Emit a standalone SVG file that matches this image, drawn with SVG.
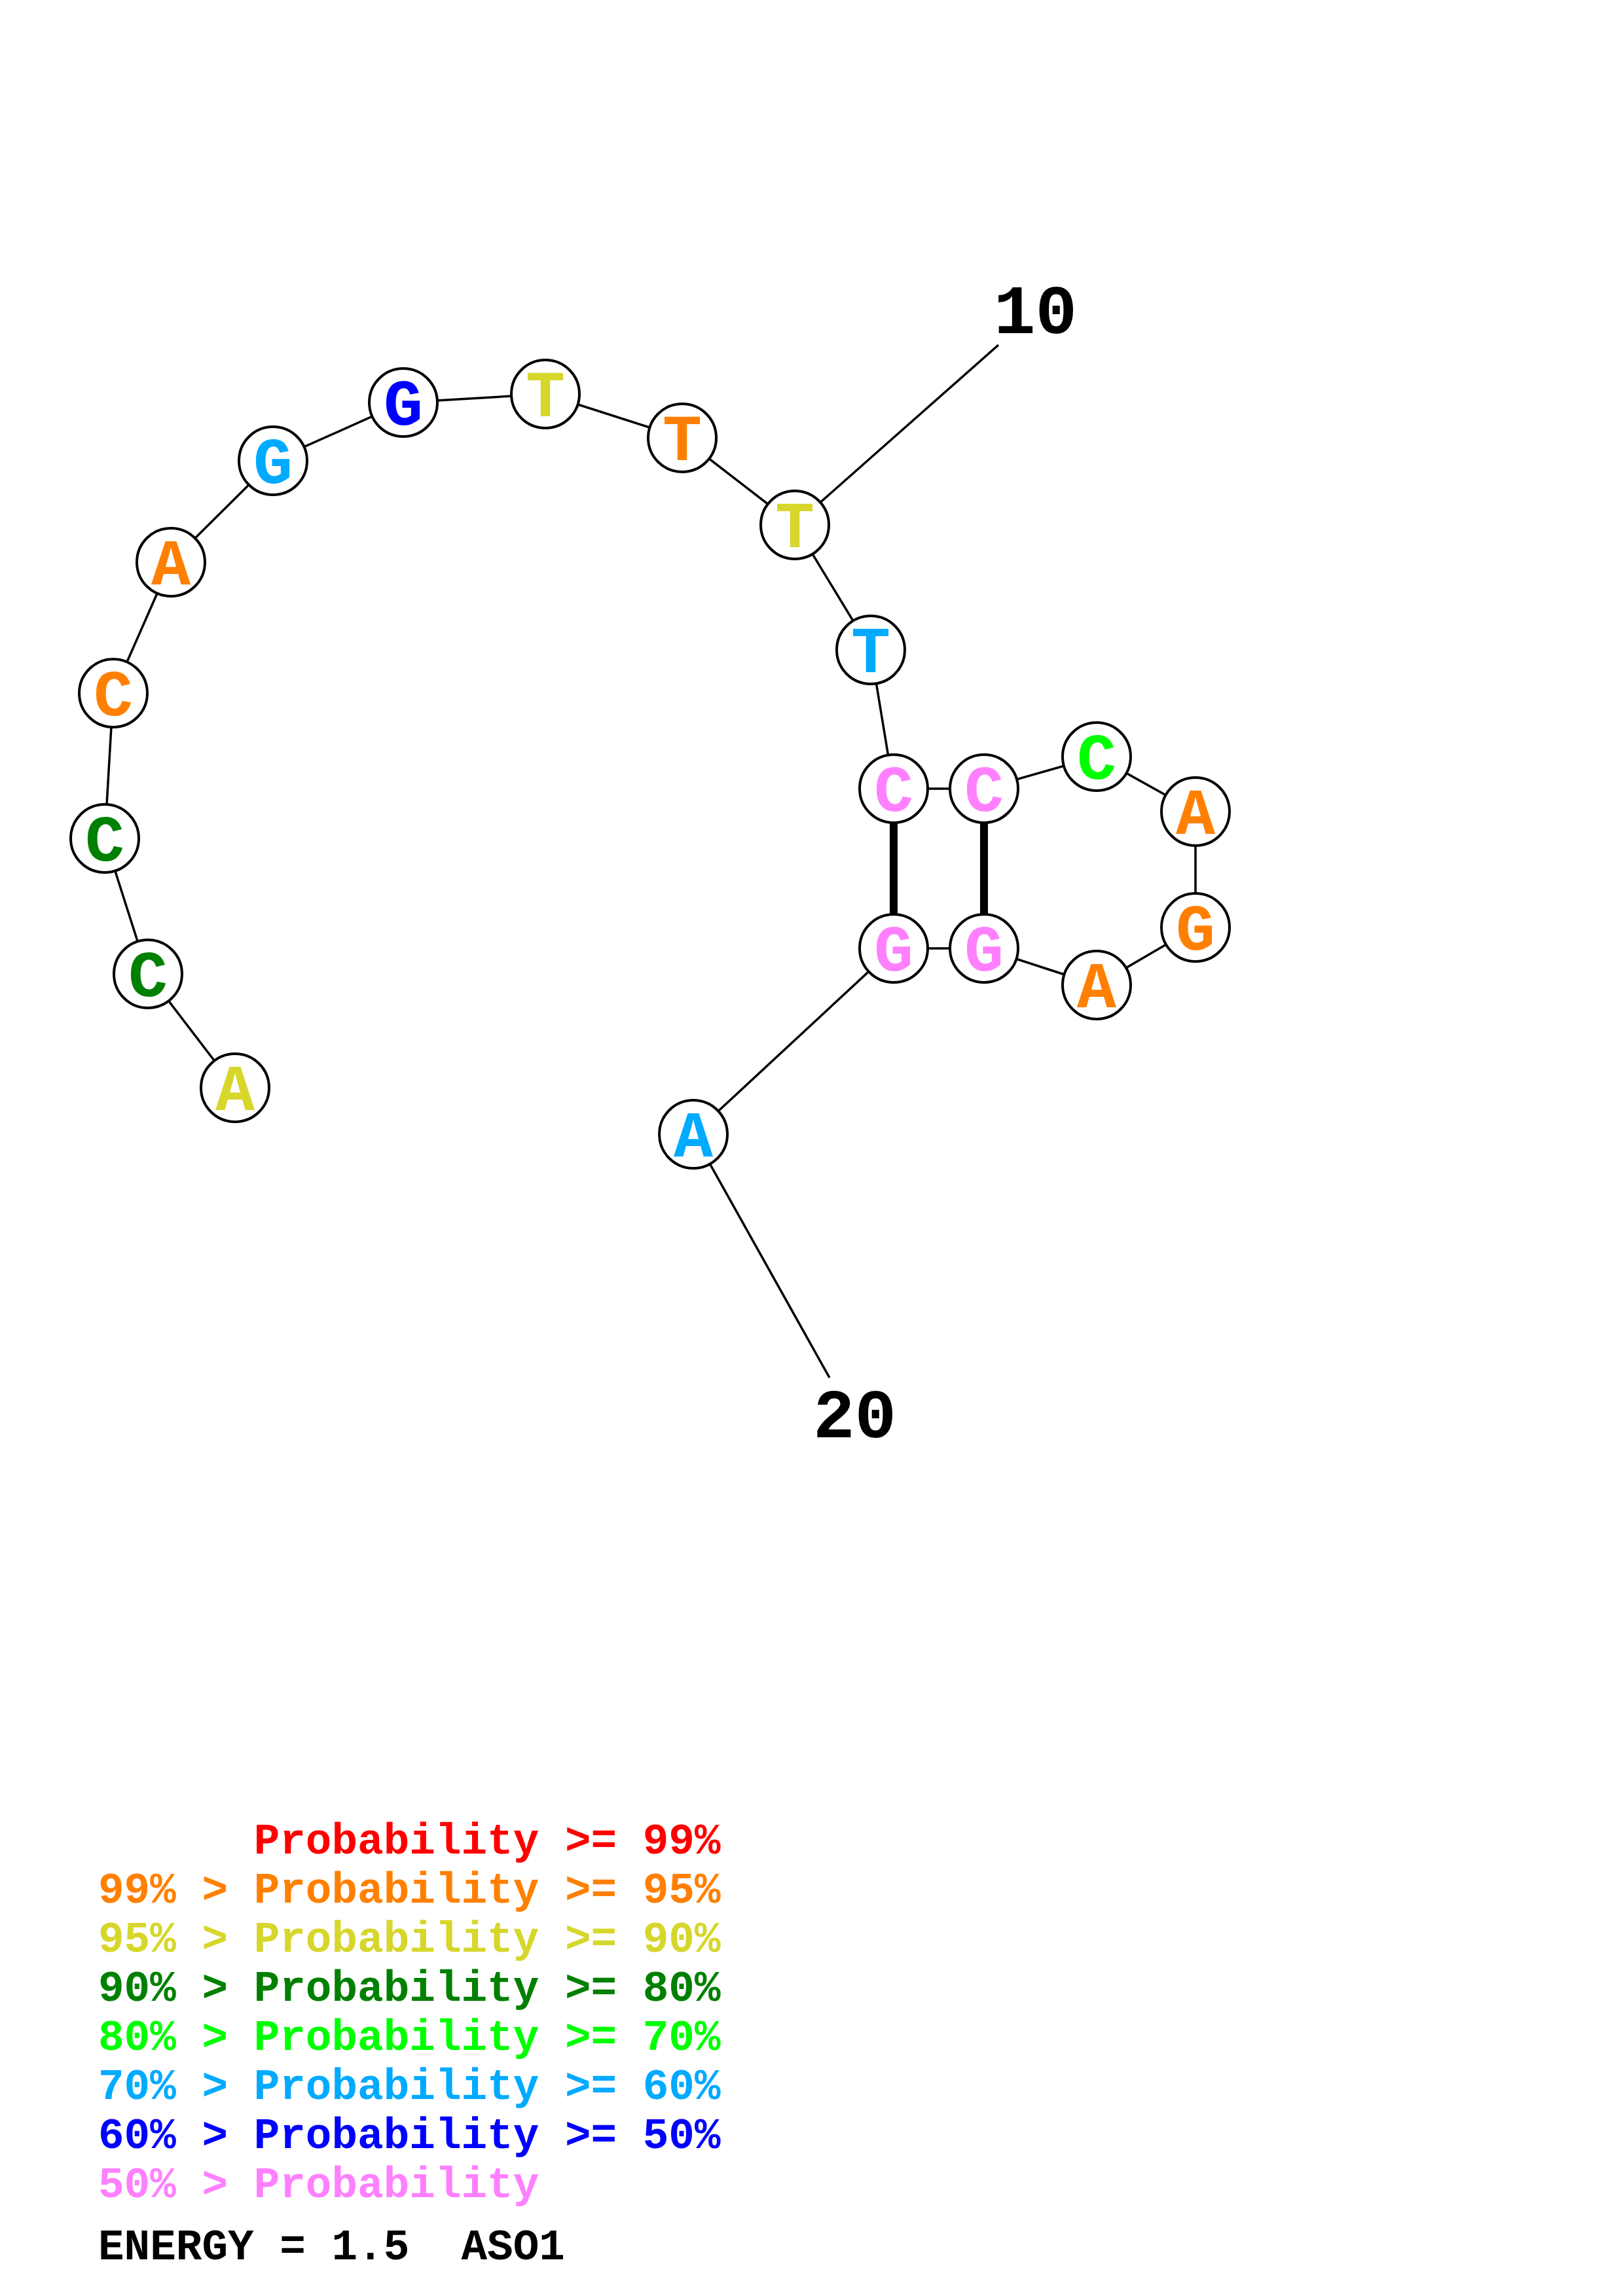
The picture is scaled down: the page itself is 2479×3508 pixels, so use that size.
<svg xmlns="http://www.w3.org/2000/svg" width="2479" height="3508" viewBox="0 0 2479 3508">
<style>
.bg{fill:#fff}
.ln{stroke:#000;stroke-width:3.5;fill:none}
.pair{stroke:#000;stroke-width:12;fill:none}
.nd{fill:#fff;stroke:#000;stroke-width:4}
.lt{font-family:"Liberation Mono","Courier New",monospace;font-weight:bold;font-size:100px;text-anchor:middle}
.num{font-family:"Liberation Mono","Courier New",monospace;font-weight:bold;font-size:106px;fill:#000}
.lg{font-family:"Liberation Mono","Courier New",monospace;font-weight:bold;font-size:66px;white-space:pre}
.red{fill:#FF0000}.ora{fill:#FF8000}.yel{fill:#D6D62B}.dgr{fill:#008000}.bgr{fill:#00FF00}.lbl{fill:#00AAFF}.blu{fill:#0000FF}.pnk{fill:#FF80FF}.blk{fill:#000}
</style>
<rect class="bg" x="0" y="0" width="2479" height="3508"/>
<g id="connectors">
<polyline class="ln" points="359,1662 226,1488 160,1281 173,1059 261,859 417,704 616,615 833,602 1042,669 1214,802 1330,993 1365,1205 1503,1205 1675,1156 1826,1240 1826,1417 1675,1505 1503,1449 1365,1449 1059,1733"/>
<line class="ln" x1="1214" y1="802" x2="1525" y2="527"/>
<line class="ln" x1="1059" y1="1733" x2="1267" y2="2105"/>
<line class="pair" x1="1365" y1="1205" x2="1365" y2="1449"/>
<line class="pair" x1="1503" y1="1205" x2="1503" y2="1449"/>
</g>
<g id="n1"><circle class="nd" cx="359" cy="1662" r="52"/><text class="lt yel" x="359" y="1696">A</text></g>
<g id="n2"><circle class="nd" cx="226" cy="1488" r="52"/><text class="lt dgr" x="226" y="1522">C</text></g>
<g id="n3"><circle class="nd" cx="160" cy="1281" r="52"/><text class="lt dgr" x="160" y="1315">C</text></g>
<g id="n4"><circle class="nd" cx="173" cy="1059" r="52"/><text class="lt ora" x="173" y="1093">C</text></g>
<g id="n5"><circle class="nd" cx="261" cy="859" r="52"/><text class="lt ora" x="261" y="893">A</text></g>
<g id="n6"><circle class="nd" cx="417" cy="704" r="52"/><text class="lt lbl" x="417" y="738">G</text></g>
<g id="n7"><circle class="nd" cx="616" cy="615" r="52"/><text class="lt blu" x="616" y="649">G</text></g>
<g id="n8"><circle class="nd" cx="833" cy="602" r="52"/><text class="lt yel" x="833" y="636">T</text></g>
<g id="n9"><circle class="nd" cx="1042" cy="669" r="52"/><text class="lt ora" x="1042" y="703">T</text></g>
<g id="n10"><circle class="nd" cx="1214" cy="802" r="52"/><text class="lt yel" x="1214" y="836">T</text></g>
<g id="n11"><circle class="nd" cx="1330" cy="993" r="52"/><text class="lt lbl" x="1330" y="1027">T</text></g>
<g id="n12"><circle class="nd" cx="1365" cy="1205" r="52"/><text class="lt pnk" x="1365" y="1239">C</text></g>
<g id="n13"><circle class="nd" cx="1503" cy="1205" r="52"/><text class="lt pnk" x="1503" y="1239">C</text></g>
<g id="n14"><circle class="nd" cx="1675" cy="1156" r="52"/><text class="lt bgr" x="1675" y="1190">C</text></g>
<g id="n15"><circle class="nd" cx="1826" cy="1240" r="52"/><text class="lt ora" x="1826" y="1274">A</text></g>
<g id="n16"><circle class="nd" cx="1826" cy="1417" r="52"/><text class="lt ora" x="1826" y="1451">G</text></g>
<g id="n17"><circle class="nd" cx="1675" cy="1505" r="52"/><text class="lt ora" x="1675" y="1539">A</text></g>
<g id="n18"><circle class="nd" cx="1503" cy="1449" r="52"/><text class="lt pnk" x="1503" y="1483">G</text></g>
<g id="n19"><circle class="nd" cx="1365" cy="1449" r="52"/><text class="lt pnk" x="1365" y="1483">G</text></g>
<g id="n20"><circle class="nd" cx="1059" cy="1733" r="52"/><text class="lt lbl" x="1059" y="1767">A</text></g>
<g id="labels">
<text class="num" x="1518" y="509">10</text>
<text class="num" x="1242" y="2196">20</text>
</g>
<g id="legend">
<text class="lg red" x="150" y="2832" xml:space="preserve">      Probability &gt;= 99%</text>
<text class="lg ora" x="150" y="2907" xml:space="preserve">99% &gt; Probability &gt;= 95%</text>
<text class="lg yel" x="150" y="2982" xml:space="preserve">95% &gt; Probability &gt;= 90%</text>
<text class="lg dgr" x="150" y="3057" xml:space="preserve">90% &gt; Probability &gt;= 80%</text>
<text class="lg bgr" x="150" y="3132" xml:space="preserve">80% &gt; Probability &gt;= 70%</text>
<text class="lg lbl" x="150" y="3207" xml:space="preserve">70% &gt; Probability &gt;= 60%</text>
<text class="lg blu" x="150" y="3282" xml:space="preserve">60% &gt; Probability &gt;= 50%</text>
<text class="lg pnk" x="150" y="3357" xml:space="preserve">50% &gt; Probability</text>
<text class="lg blk" x="150" y="3452" xml:space="preserve">ENERGY = 1.5  ASO1</text>
</g>
</svg>
